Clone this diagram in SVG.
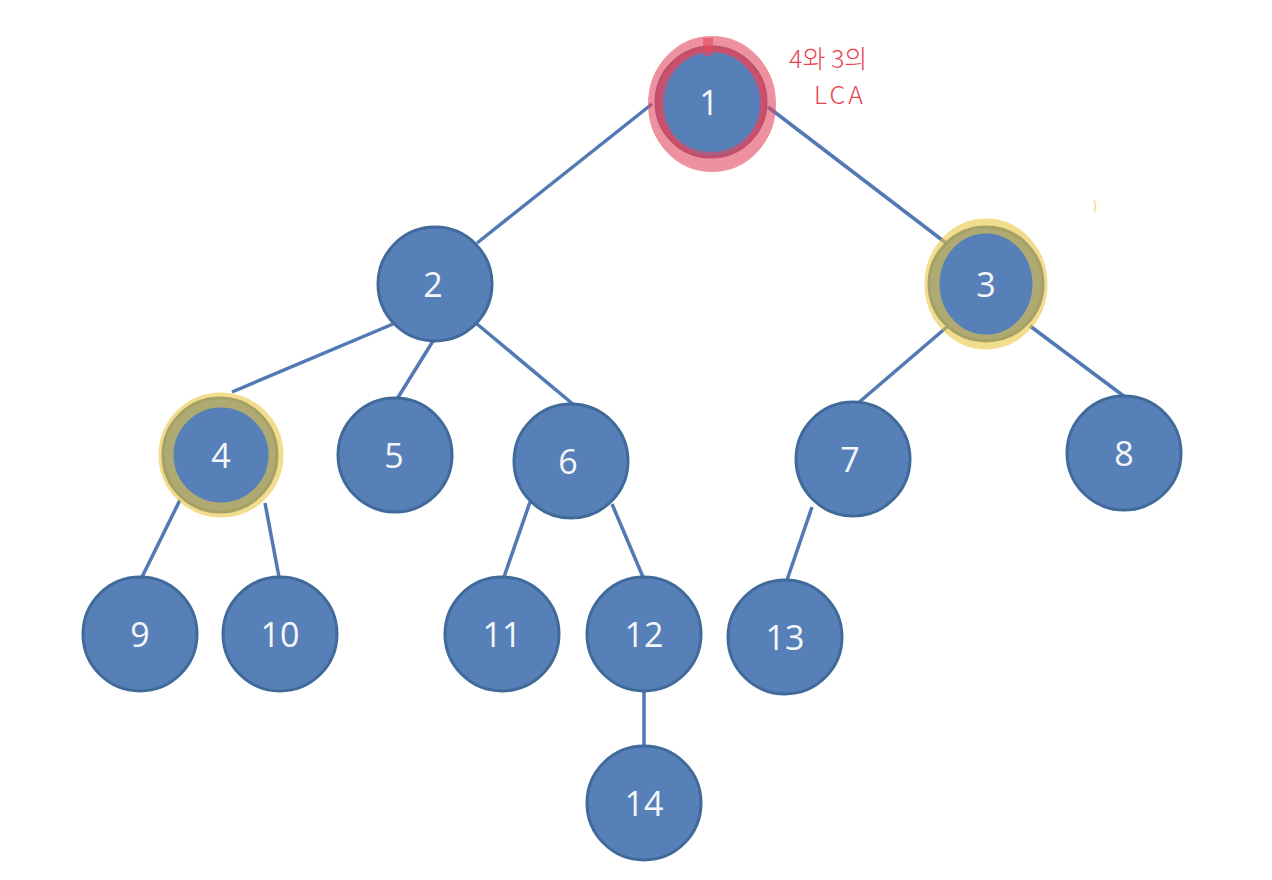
<svg xmlns="http://www.w3.org/2000/svg" width="1272" height="880" viewBox="0 0 1272 880">
<style>
.edge{stroke:#5179B3;stroke-width:3.5;fill:none}
.node circle.n{fill:#5880B8;stroke:#3F6A99;stroke-width:3}
.node text{font-family:"Open Sans","Noto Sans",sans-serif;font-size:34px;fill:#F4F6FA;text-anchor:middle;dominant-baseline:central}
.red{fill:none;stroke:#E2485F;stroke-opacity:0.6}
.yel{fill:none;stroke:#E9C743;stroke-opacity:0.6}
.note{font-family:"Noto Sans CJK KR","Liberation Sans",sans-serif;font-size:25px;font-weight:300;fill:#E8404F}
</style>
<rect width="1272" height="880" fill="#FFFFFF"/>
<g id="connectors">
<line class="edge" x1="652" y1="104" x2="477" y2="243"/>
<line class="edge" x1="768" y1="107" x2="946" y2="243"/>
<line class="edge" x1="393" y1="324" x2="232" y2="392"/>
<line class="edge" x1="433" y1="341" x2="397" y2="399"/>
<line class="edge" x1="477" y1="324" x2="574" y2="405"/>
<line class="edge" x1="948" y1="326" x2="857" y2="404"/>
<line class="edge" x1="1030" y1="326" x2="1125" y2="397"/>
<line class="edge" x1="180" y1="500" x2="142" y2="577"/>
<line class="edge" x1="265" y1="503" x2="279" y2="577"/>
<line class="edge" x1="530" y1="502" x2="504" y2="577"/>
<line class="edge" x1="612" y1="504" x2="643" y2="577"/>
<line class="edge" x1="812" y1="507" x2="787" y2="580"/>
<line class="edge" x1="644" y1="690" x2="644" y2="746"/>
</g>
<g id="node1" class="node"><circle class="n" cx="711" cy="102" r="55"/><text x="709" y="102">1</text></g>
<g id="node2" class="node"><circle class="n" cx="435" cy="284" r="57"/><text x="433" y="284">2</text></g>
<g id="node3" class="node"><circle class="n" cx="986" cy="284" r="57"/><text x="986" y="284">3</text></g>
<g id="node4" class="node"><circle class="n" cx="220" cy="455" r="57"/><text x="221" y="455">4</text></g>
<g id="node5" class="node"><circle class="n" cx="395" cy="455" r="57"/><text x="394" y="455">5</text></g>
<g id="node6" class="node"><circle class="n" cx="571" cy="461" r="57"/><text x="568" y="461">6</text></g>
<g id="node7" class="node"><circle class="n" cx="853" cy="459" r="57"/><text x="850" y="459">7</text></g>
<g id="node8" class="node"><circle class="n" cx="1124" cy="453" r="57"/><text x="1124" y="453">8</text></g>
<g id="node9" class="node"><circle class="n" cx="140" cy="634" r="57"/><text x="140" y="634">9</text></g>
<g id="node10" class="node"><circle class="n" cx="280" cy="634" r="57"/><text x="280" y="634">10</text></g>
<g id="node11" class="node"><circle class="n" cx="502" cy="634" r="57"/><text x="502" y="634">11</text></g>
<g id="node12" class="node"><circle class="n" cx="644" cy="634" r="57"/><text x="644" y="634">12</text></g>
<g id="node13" class="node"><circle class="n" cx="785" cy="637" r="57"/><text x="785" y="637">13</text></g>
<g id="node14" class="node"><circle class="n" cx="644" cy="803" r="57"/><text x="644" y="803">14</text></g>
<g id="highlights">
<ellipse class="red" cx="712" cy="104" rx="56" ry="60" stroke-width="16"/>
<ellipse class="red" cx="711" cy="102" rx="53" ry="53" stroke-width="6" stroke="#B52A48" stroke-opacity="0.45"/>
<line class="red" x1="708" y1="38" x2="708" y2="56" stroke-width="10"/>
<ellipse class="yel" cx="986" cy="284" rx="54" ry="58" stroke-width="15"/>
<ellipse class="yel" cx="221" cy="455" rx="55" ry="55" stroke-width="15"/>
<path d="M1094 200 Q1097 206 1094 212" class="yel" stroke-width="1.5"/>
</g>
<g id="note">
<text class="note" x="789" y="68">4와 3의</text>
<text class="note" x="814" y="104" font-family="Liberation Sans, sans-serif" letter-spacing="3">LCA</text>
</g>
</svg>
